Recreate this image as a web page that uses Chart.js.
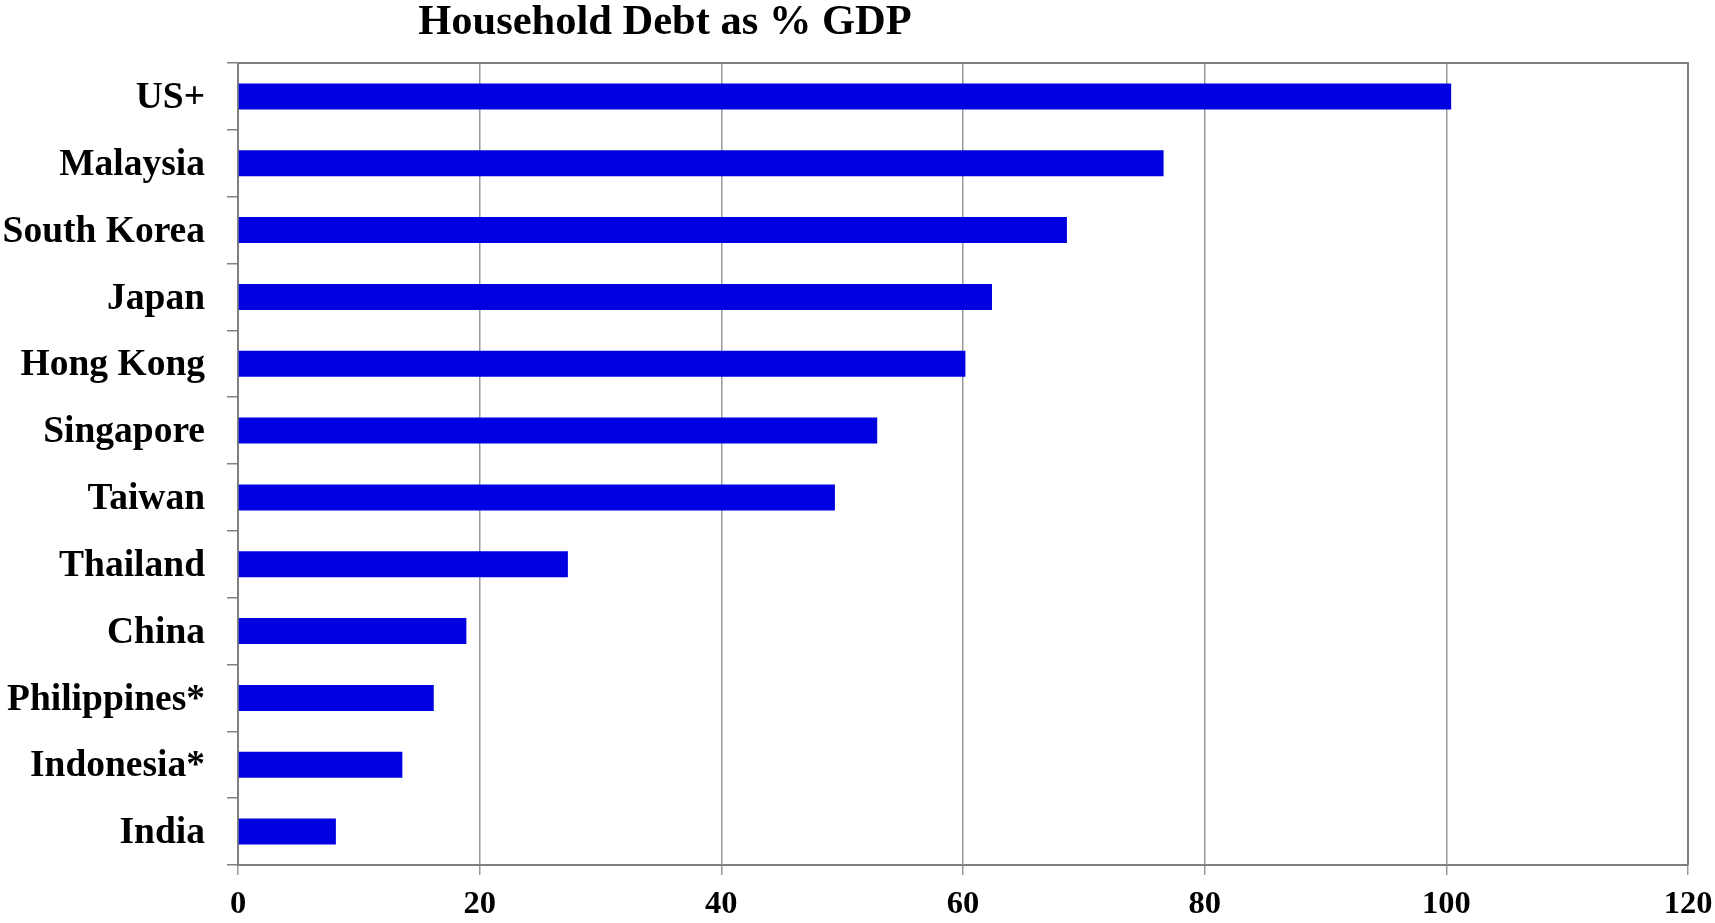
<!DOCTYPE html>
<html lang="en">
<head>
  <meta charset="UTF-8">
  <title>Household Debt as % GDP</title>
  <script src="https://cdn.jsdelivr.net/npm/chart.js@4.4.0/dist/chart.umd.min.js"></script>
  <style>
    body {
      margin: 0;
      background: #fff;
    }
    #wrap {
      width: 1715px;
      height: 923px;
    }
  </style>
</head>
<body>
  <div id="wrap"><canvas id="debtChart" width="1715" height="923"></canvas></div>
  <script>
    const chartTitle = 'Household Debt as % GDP';
    const countries = ['US+', 'Malaysia', 'South Korea', 'Japan', 'Hong Kong', 'Singapore',
      'Taiwan', 'Thailand', 'China', 'Philippines*', 'Indonesia*', 'India'];
    const debtPct = [100.4, 76.6, 68.6, 62.4, 60.2, 52.9, 49.4, 27.3, 18.9, 16.2, 13.6, 8.1];
    const xMin = 0;
    const xMax = 120;
    const xStep = 20;

    const serif = '"Liberation Serif", "Times New Roman", serif';

    // title sits left of centre in the original, and the plot has a closed frame
    const framePlugin = {
      id: 'frame',
      afterDraw(chart) {
        const { ctx, chartArea } = chart;
        ctx.save();
        ctx.strokeStyle = '#808080';
        ctx.lineWidth = 2;
        ctx.beginPath();
        ctx.moveTo(chartArea.left, chartArea.top);
        ctx.lineTo(chartArea.right, chartArea.top);
        ctx.lineTo(chartArea.right, chartArea.bottom);
        ctx.stroke();

        ctx.fillStyle = '#000';
        ctx.font = 'bold 42.5px ' + serif;
        ctx.textAlign = 'center';
        ctx.textBaseline = 'alphabetic';
        ctx.fillText(chartTitle, 665, 34);
        ctx.restore();
      }
    };

    new Chart(document.getElementById('debtChart'), {
      type: 'bar',
      data: {
        labels: countries,
        datasets: [{
          data: debtPct,
          backgroundColor: '#0000e1',
          borderWidth: 0,
          barPercentage: 0.39,
          categoryPercentage: 1
        }]
      },
      options: {
        indexAxis: 'y',
        responsive: false,
        animation: false,
        layout: {
          padding: { top: 63, right: 27, left: 0, bottom: 0 }
        },
        plugins: {
          legend: { display: false },
          title: { display: false },
          tooltip: { enabled: false }
        },
        scales: {
          x: {
            min: xMin,
            max: xMax,
            ticks: {
              stepSize: xStep,
              color: '#000',
              padding: 10,
              font: { family: serif, size: 32.5, weight: 'bold' }
            },
            grid: {
              color: '#999',
              lineWidth: 1.5,
              tickLength: 10
            },
            border: { color: '#808080', width: 2 },
            afterFit(scale) {
              scale.height = 58;
              scale.paddingLeft = 0;
              scale.paddingRight = 0;
            }
          },
          y: {
            ticks: {
              color: '#000',
              padding: 22,
              labelOffset: 2,
              font: { family: serif, size: 37.5, weight: 'bold' }
            },
            grid: {
              drawOnChartArea: false,
              color: '#808080',
              lineWidth: 1.5,
              tickLength: 11,
              offset: true
            },
            border: { color: '#808080', width: 2 },
            afterFit(scale) { scale.width = 238; }
          }
        }
      },
      plugins: [framePlugin]
    });
  </script>
</body>
</html>
